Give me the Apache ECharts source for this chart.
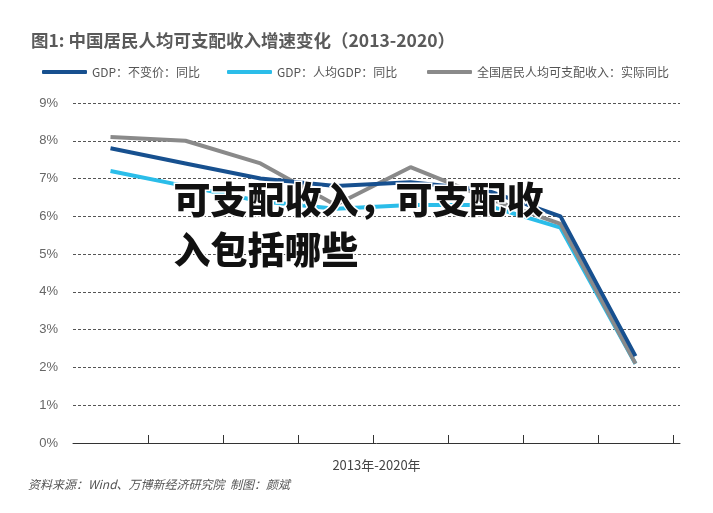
<!DOCTYPE html>
<html>
<head>
<meta charset="utf-8">
<script src="https://cdn.jsdelivr.net/npm/echarts@6/dist/echarts.min.js"></script>
<style>html,body{margin:0;padding:0;background:#fff;}#c{width:713px;height:513px;}</style>
</head>
<body>
<div id="c"></div>
<script>
var years = ['2013','2014','2015','2016','2017','2018','2019','2020'];
var gdpReal = [7.8, 7.4, 7.0, 6.8, 6.9, 6.7, 6.0, 2.3];
var gdpPerCapita = [7.2, 6.8, 6.4, 6.2, 6.3, 6.3, 5.7, 2.1];
var incomeReal = [8.1, 8.0, 7.4, 6.3, 7.3, 6.5, 5.8, 2.1];
var seriesNames = ['GDP：不变价：同比', 'GDP：人均GDP：同比', '全国居民人均可支配收入：实际同比'];
var yTicks = [0,1,2,3,4,5,6,7,8,9];
var titleText = '图1: 中国居民人均可支配收入增速变化（2013-2020）';
var xName = '2013年-2020年';
var sourceText = '资料来源：Wind、万博新经济研究院  制图：颜斌';
var overlayLines = ['可支配收入，可支配收', '入包括哪些'];

var colors = ['#17508f', '#2bbde9', '#8a8a8a'];
var font = '"Noto Sans CJK SC", "Noto Sans", sans-serif';

function pts(arr){ return arr.map(function(v,i){ return [i, v]; }); }
var boundaryTicks = years.map(function(y,i){ return i + 0.5; });

var chart = echarts.init(document.getElementById('c'), null, {renderer:'canvas'});
var legendBase = {
  top: 61, icon: 'roundRect', itemWidth: 45, itemHeight: 4, itemGap: 6,
  textStyle: {color: '#555', fontSize: 12, fontFamily: font}
};
chart.setOption({
  animation: false,
  backgroundColor: '#fff',
  textStyle: {fontFamily: font},
  title: {
    text: titleText, left: 26, top: 27,
    textStyle: {color: '#5a5a5a', fontSize: 17.5, fontWeight: 'bold', fontFamily: font}
  },
  legend: [
    Object.assign({}, legendBase, {left: 37, data: [seriesNames[0]]}),
    Object.assign({}, legendBase, {left: 222, data: [seriesNames[1]]}),
    Object.assign({}, legendBase, {left: 422, data: [seriesNames[2]]})
  ],
  grid: {left: 73, right: 33, top: 103, bottom: 70, containLabel: false},
  xAxis: {
    type: 'value', min: -0.5, max: 7.5 + 7/75,
    name: xName, nameLocation: 'middle', nameGap: 16,
    nameTextStyle: {color: '#444', fontSize: 13, fontFamily: font},
    axisLine: {show: true, lineStyle: {color: '#333', width: 1}},
    axisTick: {show: true, inside: true, length: 8, customValues: boundaryTicks, lineStyle: {color: '#333'}},
    axisLabel: {show: false},
    splitLine: {show: false}
  },
  yAxis: {
    type: 'value', min: yTicks[0], max: yTicks[yTicks.length-1], interval: 1,
    axisLine: {show: false}, axisTick: {show: false},
    axisLabel: {formatter: '{value}%', color: '#666', fontSize: 13, margin: 15, fontFamily: 'Liberation Sans, Arial, sans-serif'},
    splitLine: {show: true, lineStyle: {color: '#555', width: 1, type: [3, 2]}}
  },
  series: [
    {name: seriesNames[0], type: 'line', data: pts(gdpReal), showSymbol: false, symbol: 'none', z: 4,
     lineStyle: {color: colors[0], width: 4}, itemStyle: {color: colors[0]}},
    {name: seriesNames[1], type: 'line', data: pts(gdpPerCapita), showSymbol: false, symbol: 'none', z: 2,
     lineStyle: {color: colors[1], width: 4}, itemStyle: {color: colors[1]}},
    {name: seriesNames[2], type: 'line', data: pts(incomeReal), showSymbol: false, symbol: 'none', z: 3,
     lineStyle: {color: colors[2], width: 4}, itemStyle: {color: colors[2]}}
  ],
  graphic: [
    {type: 'text', left: 28, top: 478, z: 10,
     style: {text: sourceText, fill: '#555', fontSize: 12, fontStyle: 'italic', fontFamily: font}},
    {type: 'text', left: 172, top: 180, z: 20,
     style: {text: overlayLines[0], fill: '#111', fontSize: 37, fontWeight: 900, fontFamily: font,
             stroke: '#fff', lineWidth: 3}},
    {type: 'text', left: 172, top: 230, z: 20,
     style: {text: overlayLines[1], fill: '#111', fontSize: 37, fontWeight: 900, fontFamily: font,
             stroke: '#fff', lineWidth: 3}}
  ]
});
</script>
</body>
</html>
